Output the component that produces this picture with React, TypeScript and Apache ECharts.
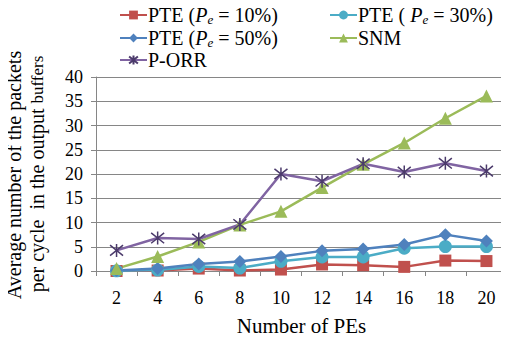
import React, { useEffect, useRef } from "react";
import * as echarts from "echarts";

const categories = ["2", "4", "6", "8", "10", "12", "14", "16", "18", "20"];
const pte10 = [0, 0.1, 0.5, 0.1, 0.3, 1.35, 1.2, 0.85, 2.15, 2.05];
const pte30 = [0.05, 0.2, 0.95, 0.6, 2.0, 2.9, 2.9, 4.7, 5.05, 5.05];
const pte50 = [0.1, 0.5, 1.45, 1.95, 3.0, 4.15, 4.55, 5.45, 7.5, 6.2];
const snm = [0.5, 3.0, 6.0, 9.5, 12.3, 17.2, 22.0, 26.4, 31.5, 36.1];
const porr = [4.25, 6.8, 6.6, 9.6, 20.0, 18.5, 22.1, 20.4, 22.2, 20.6];
const yTicks = [0, 5, 10, 15, 20, 25, 30, 35, 40];

const FONT = "'Liberation Serif', 'Times New Roman', serif";
const STAR = "path://M0,-10L0,10M-8,-8L8,8M8,-8L-8,8";

const names = ["PTE10", "PTE30", "PTE50", "SNM", "P-ORR"];
const labels: Record<string, string> = {
  PTE10: "{t|PTE (}{i|P}{sub|e}{t| = 10%)}",
  PTE30: "{t|PTE ( }{i|P}{sub|e}{t| = 30%)}",
  PTE50: "{t|PTE (}{i|P}{sub|e}{t| = 50%)}",
  SNM: "{t|SNM}",
  "P-ORR": "{t|P-ORR}",
};

export default function App() {
  const ref = useRef<HTMLDivElement>(null);
  useEffect(() => {
    if (!ref.current) return;
    const chart = echarts.init(ref.current, null, { renderer: "svg" });
    const rich = {
      t: { fontFamily: FONT, fontSize: 20, color: "#000" },
      i: { fontFamily: FONT, fontSize: 20, fontStyle: "italic", color: "#000" },
      sub: { fontFamily: FONT, fontSize: 13, fontStyle: "italic", color: "#000", verticalAlign: "bottom", padding: [8, 0, 0, 0] },
    };
    const legendPos = [
      { left: 119, top: 5 },
      { left: 329, top: 5 },
      { left: 119, top: 28 },
      { left: 329, top: 28 },
      { left: 119, top: 50 },
    ];
    const legend = names.map((n, k) => ({
      data: [n],
      left: legendPos[k].left,
      top: legendPos[k].top,
      itemWidth: 27,
      itemHeight: 11,
      itemGap: 0,
      padding: 0,
      formatter: (name: string) => labels[name],
      textStyle: { fontFamily: FONT, fontSize: 20, color: "#000", padding: [0, 0, 0, -4], rich },
    }));
    const mk = (name: string, data: number[], color: string, symbol: string, size: number, extra: any = {}) => ({
      name,
      type: "line",
      data,
      symbol,
      symbolSize: size,
      lineStyle: { color, width: 2.5 },
      itemStyle: { color, ...extra },
      emphasis: { disabled: true },
    });
    chart.setOption({
      animation: false,
      textStyle: { fontFamily: FONT },
      legend,
      grid: { left: 96, right: 2, top: 77, bottom: 66, containLabel: false },
      xAxis: {
        type: "category",
        data: categories,
        boundaryGap: true,
        name: "Number of PEs",
        nameLocation: "middle",
        nameGap: 44,
        nameTextStyle: { fontFamily: FONT, fontSize: 21, color: "#000" },
        axisLine: { lineStyle: { color: "#868686", width: 1 } },
        axisTick: { show: true, length: 5, lineStyle: { color: "#868686" } },
        axisLabel: { fontFamily: FONT, fontSize: 18, color: "#000", margin: 18 },
      },
      yAxis: {
        type: "value",
        min: 0,
        max: 40,
        interval: 5,
        axisLine: { show: true, lineStyle: { color: "#868686", width: 1 } },
        axisTick: { show: true, length: 5, lineStyle: { color: "#868686" } },
        splitLine: { lineStyle: { color: "#868686", width: 1 } },
        axisLabel: {
          fontFamily: FONT,
          fontSize: 18,
          color: "#000",
          margin: 13,
          formatter: (v: number) => (yTicks.includes(v) ? String(v) : ""),
        },
      },
      graphic: [
        {
          type: "text",
          x: 14,
          y: 175,
          rotation: Math.PI / 2,
          style: {
            text: "Average number of the packets",
            fontFamily: FONT,
            fontSize: 20,
            fill: "#000",
            textAlign: "center",
            textVerticalAlign: "middle",
          },
        },
        {
          type: "text",
          x: 37,
          y: 174,
          rotation: Math.PI / 2,
          style: {
            text: "{a|per cycle  in the output }{b|buffers}",
            rich: {
              a: { fontFamily: FONT, fontSize: 20, fill: "#000", color: "#000" },
              b: { fontFamily: FONT, fontSize: 17, fill: "#000", color: "#000" },
            },
            textAlign: "center",
            textVerticalAlign: "middle",
          },
        },
      ],
      series: [
        mk("PTE10", pte10, "#C0504D", "rect", 12),
        mk("PTE30", pte30, "#4BACC6", "circle", 13),
        mk("PTE50", pte50, "#4F81BD", "diamond", 13),
        mk("SNM", snm, "#9BBB59", "triangle", 13),
        mk("P-ORR", porr, "#8064A2", STAR, 13, { borderColor: "#4B3A6B", borderWidth: 1.5 }),
      ],
    });
    return () => chart.dispose();
  }, []);
  return <div ref={ref} style={{ width: 509, height: 341, margin: -8 }} />;
}
